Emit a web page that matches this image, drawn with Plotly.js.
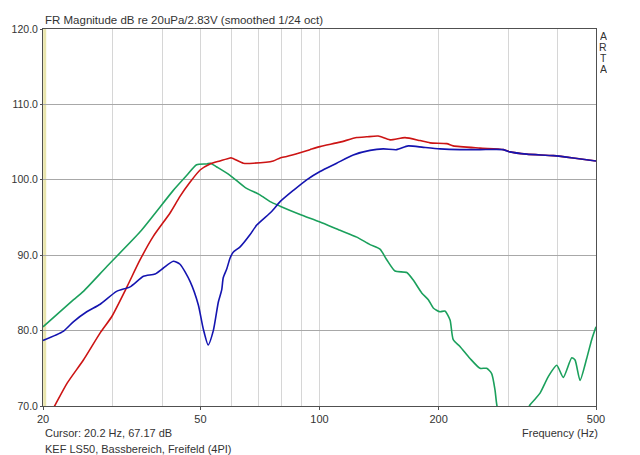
<!DOCTYPE html>
<html><head><meta charset="utf-8">
<script src="https://cdn.plot.ly/plotly-3.0.1.min.js"></script>
<style>html,body{margin:0;padding:0;background:#fff}#chart{width:640px;height:455px}</style>
</head><body><div id="chart"></div>
<script>
// Red curve
const redFreq = [20, 21.4, 23.0, 25.3, 27.9, 29.8, 32.6, 35.2, 38.0, 41.9, 44.4, 47.1, 49.9, 52.9, 56.0, 59.4, 60.0, 64.2, 68.0, 76.4, 79.5, 82.6, 89.3, 94.6, 100.3, 112.7, 124.2, 131.6, 140.8, 150.7, 164.5, 179.5, 190.3, 209.7, 217.8, 254.5, 291.5, 303.1, 334.1, 390, 438, 500];
const redDb   = [67.2, 70.0, 73.0, 76.1, 79.7, 81.8, 85.8, 89.4, 92.5, 95.6, 97.8, 99.7, 101.3, 102.1, 102.5, 102.9, 102.9, 102.2, 102.2, 102.5, 102.9, 103.1, 103.6, 104.0, 104.4, 105.0, 105.6, 105.7, 105.8, 105.3, 105.6, 105.2, 104.9, 104.8, 104.5, 104.2, 104.0, 103.7, 103.4, 103.2, 102.9, 102.5];

// Blue curve
const blueFreq = [20, 22.5, 23.9, 25.8, 27.9, 30.7, 33.2, 35.9, 38.4, 40.3, 42.7, 44.4, 47.1, 49.4, 50.8, 52.3, 53.9, 55.5, 56.6, 57.1, 58.3, 59.4, 60.5, 63.0, 66.7, 69.4, 75.7, 79.5, 85.9, 92.8, 100.3, 110.5, 121.7, 134.2, 144.9, 156.7, 167.6, 183.0, 201.6, 226.5, 254.5, 291.5, 303.1, 334.1, 390, 438, 500];
const blueDb   = [78.7, 79.9, 81.2, 82.5, 83.5, 85.2, 85.8, 87.2, 87.5, 88.3, 89.2, 88.8, 86.5, 83.4, 80.3, 78.1, 80.0, 83.8, 85.4, 87.0, 88.2, 89.6, 90.4, 91.1, 92.7, 94.0, 95.8, 97.1, 98.6, 100.0, 101.1, 102.2, 103.3, 103.9, 104.1, 104.0, 104.5, 104.3, 104.1, 104.0, 104.0, 104.0, 103.7, 103.4, 103.2, 102.9, 102.5];

// Green curve
const greenFreq = [20, 23.9, 25.3, 29.0, 35.2, 42.7, 46.2, 48.9, 51.9, 53.0, 55.0, 59.4, 64.8, 70.7, 75.0, 79.5, 89.3, 100.3, 112.7, 124.2, 134.2, 142.2, 147.9, 155.2, 166.2, 172.6, 181.3, 188.4, 193.9, 201.6, 207.5, 213.8, 217.8, 226.5, 240.2, 254.5, 264.6, 272.4, 277.8, 281, 295, 320, 340, 350.6, 361, 378.8, 397.8, 413.3, 434.2, 442.6, 455.6, 473.6, 487.6, 500];
const greenDb   = [80.5, 84.1, 85.2, 88.5, 93.1, 98.6, 100.6, 102.0, 102.1, 102.2, 101.7, 100.6, 99.0, 98.0, 97.1, 96.5, 95.4, 94.4, 93.3, 92.4, 91.4, 90.8, 89.4, 87.9, 87.7, 86.7, 85.0, 84.1, 83.0, 82.5, 82.6, 81.4, 78.8, 77.9, 76.3, 75.0, 75.0, 74.3, 72.1, 70.0, 66.5, 66.5, 70.1, 70.9, 71.7, 73.9, 75.4, 73.8, 76.4, 76.1, 73.4, 76.3, 78.8, 80.5];

const xTickVals = [20, 50, 100, 200, 500];
const xMinorVals = [30, 40, 60, 70, 80, 90, 300, 400];
const yTickVals = [70, 80, 90, 100, 110, 120];
const artaLetters = ['A', 'R', 'T', 'A'];
const cursorFreq = 20.2;
const decadeLine = 100;

const font = "Liberation Sans, Arial, sans-serif";

function tr(x, y, color) {
  return {x: x, y: y, type: 'scatter', mode: 'lines',
          line: {color: color, width: 1.6, shape: 'spline', smoothing: 0.6},
          hoverinfo: 'skip'};
}

const data = [
  tr(greenFreq, greenDb, '#1ba05c'),
  tr(redFreq, redDb, '#cc1414'),
  tr(blueFreq, blueDb, '#1414b0')
];

const annotations = [
  {xref: 'paper', yref: 'paper', x: 0, y: 1, xanchor: 'left', yanchor: 'bottom', yshift: 1,
   text: 'FR Magnitude dB re 20uPa/2.83V (smoothed 1/24 oct)', showarrow: false,
   font: {family: font, size: 11.5, color: '#333333'}},
  {xref: 'paper', yref: 'paper', x: 0, y: 0, xanchor: 'left', yanchor: 'top', yshift: -19,
   text: 'Cursor: 20.2 Hz, 67.17 dB', showarrow: false,
   font: {family: font, size: 11, color: '#333333'}},
  {xref: 'paper', yref: 'paper', x: 0, y: 0, xanchor: 'left', yanchor: 'top', yshift: -35,
   text: 'KEF LS50, Bassbereich, Freifeld (4PI)', showarrow: false,
   font: {family: font, size: 11, color: '#333333'}},
  {xref: 'paper', yref: 'paper', x: 1, y: 0, xanchor: 'right', yanchor: 'top', yshift: -19, xshift: 4,
   text: 'Frequency (Hz)', showarrow: false,
   font: {family: font, size: 11, color: '#333333'}}
];
artaLetters.forEach((ch, i) => {
  annotations.push({xref: 'paper', yref: 'paper', x: 1, y: 1, xanchor: 'center', yanchor: 'middle',
    xshift: 7, yshift: -7 - i * 11, text: ch, showarrow: false, height: 10, borderpad: 0,
    font: {family: font, size: 10.5, color: '#333333'}});
});

const layout = {
  width: 640, height: 455,
  margin: {l: 43, r: 44, t: 29, b: 49},
  paper_bgcolor: '#ffffff', plot_bgcolor: '#ffffff',
  showlegend: false,
  font: {family: font, size: 11, color: '#333333'},
  xaxis: {
    type: 'log', range: [Math.log10(20), Math.log10(500)],
    tickvals: xTickVals, ticktext: xTickVals.map(String),
    showgrid: true, gridcolor: '#d6d6d6', gridwidth: 1,
    minor: {tickvals: xMinorVals, showgrid: true, gridcolor: '#d6d6d6', gridwidth: 1, ticks: ''},
    showline: true, linecolor: '#505050', linewidth: 1, mirror: true,
    ticks: 'outside', ticklen: 3, tickcolor: '#505050',
    zeroline: false, fixedrange: true,
    tickfont: {family: font, size: 11, color: '#333333'}
  },
  yaxis: {
    range: [70, 120], tickvals: yTickVals, ticktext: yTickVals.map(v => v.toFixed(1)),
    showgrid: true, gridcolor: '#a8a8a8', gridwidth: 1,
    showline: true, linecolor: '#505050', linewidth: 1, mirror: true,
    ticks: 'outside', ticklen: 2, tickcolor: '#505050',
    zeroline: false, fixedrange: true,
    tickfont: {family: font, size: 10.5, color: '#333333'}
  },
  shapes: [
    {type: 'line', xref: 'x', yref: 'paper', x0: decadeLine, x1: decadeLine, y0: 0, y1: 1, line: {color: '#a8a8a8', width: 1}, layer: 'below'},
    {type: 'line', xref: 'x', yref: 'paper', x0: cursorFreq, x1: cursorFreq, y0: 0, y1: 1, line: {color: '#e9e5ad', width: 3}, layer: 'below'}
  ],
  annotations: annotations
};

Plotly.newPlot('chart', data, layout, {staticPlot: true, displayModeBar: false});
</script>
</body></html>
